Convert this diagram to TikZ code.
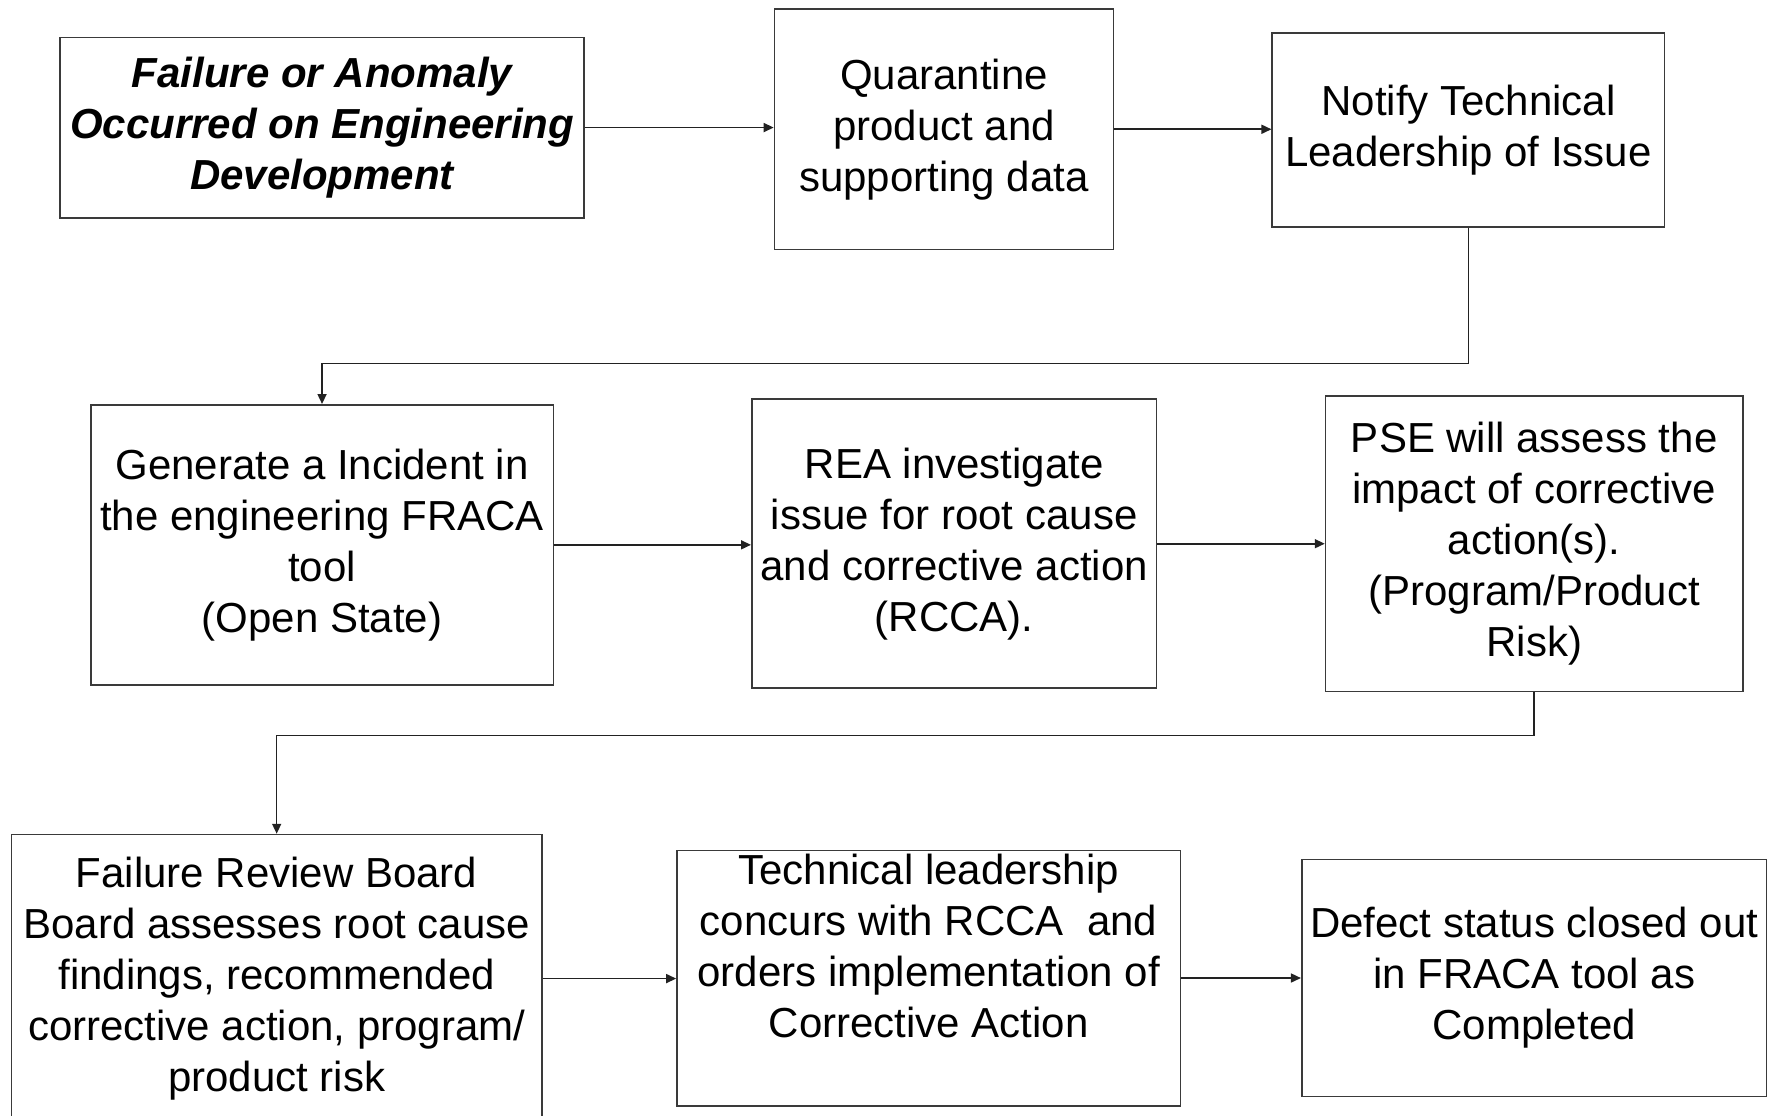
\documentclass[tikz,border=0pt]{standalone}
\usepackage{fontspec}
\setmainfont{Liberation Sans}
\usetikzlibrary{arrows.meta,positioning}
\definecolor{ink}{HTML}{222222}
\definecolor{edge}{HTML}{3A3A3A}
\tikzset{
  stepbox/.style={draw=edge, line width=0.8pt, align=center, inner sep=2pt, fill=white, font=\fontsize{21}{25.5}\selectfont},
  boxsize/.style 2 args={minimum width=#1*0.567pt, minimum height=#2*0.567pt},
  arrow/.style={-{Triangle[length=5pt, width=4.5pt]}, line width=0.8pt, draw=ink}
}
\begin{document}
\begin{tikzpicture}[x=0.567pt, y=-0.567pt]
  \useasboundingbox (0,0) rectangle (1568,984);

  \node[stepbox, boxsize={462}{159}] (fail) at (284,112.5) {\bfseries\itshape Failure or Anomaly\\\bfseries\itshape Occurred on Engineering\\\bfseries\itshape Development};
  \node[stepbox, boxsize={299}{212}] (quar) at (832.5,114) {Quarantine\\product and\\supporting data};
  \node[stepbox, boxsize={346}{171}] (notify) at (1295,114.5) {Notify Technical\\Leadership of Issue};

  \node[stepbox, boxsize={408}{247}] (incident) at (284,480.5) {Generate a Incident in\\the engineering FRACA\\tool\\(Open State)};
  \node[stepbox, boxsize={357}{255}] (rea) at (841.5,479.5) {REA investigate\\issue for root cause\\and corrective action\\(RCCA).};
  \node[stepbox, boxsize={368}{261}] (pse) at (1353,479.5) {PSE will assess the\\impact of corrective\\action(s).\\(Program/Product\\Risk)};

  \node[stepbox, boxsize={468}{254}] (frb) at (244,863) {Failure Review Board\\Board assesses root cause\\findings, recommended\\corrective action, program/\\product risk};
  \node[stepbox, boxsize={444}{225}, text depth=32pt] (concur) at (819,862.5) {Technical leadership\\concurs with RCCA\ \ and\\orders implementation of\\Corrective Action};
  \node[stepbox, boxsize={410}{209}] (closed) at (1353,862.5) {Defect status closed out\\in FRACA tool as\\Completed};

  \draw[arrow] (fail.east) -- (fail.east -| quar.west);
  \draw[arrow] (quar.east) -- (quar.east -| notify.west);
  \draw[arrow] (notify.south) -- ++(0,120) -| (incident.north);
  \draw[arrow] (incident.east) -- (incident.east -| rea.west);
  \draw[arrow] (rea.east) -- (rea.east -| pse.west);
  \draw[arrow] (pse.south) -- ++(0,38) -| (frb.north);
  \draw[arrow] (frb.east) -- (frb.east -| concur.west);
  \draw[arrow] (concur.east) -- (concur.east -| closed.west);
\end{tikzpicture}
\end{document}
